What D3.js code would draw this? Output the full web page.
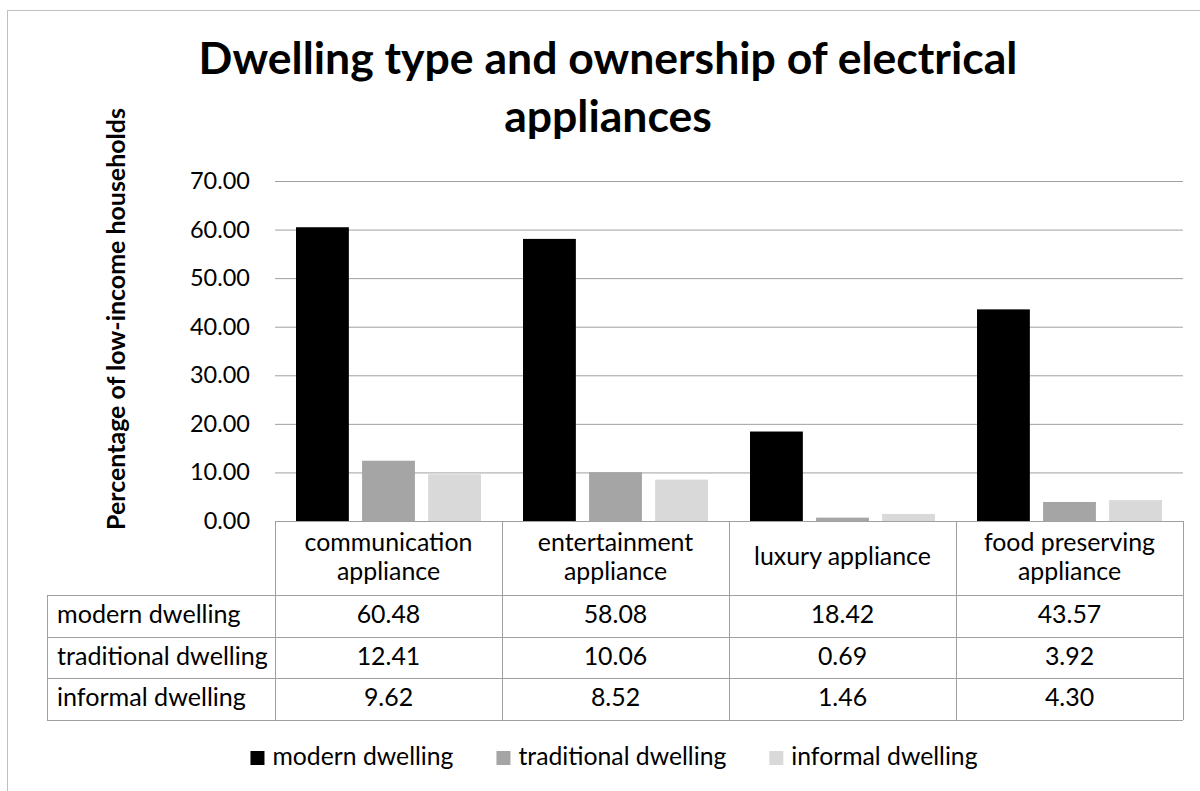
<!DOCTYPE html>
<html>
<head>
<meta charset="utf-8">
<script src="https://cdn.jsdelivr.net/npm/d3@7"></script>
<style>
  body { margin: 0; background: #fff; }
  svg { display: block; }
</style>
</head>
<body>
<svg id="chart" width="1200" height="791"></svg>
<script>
// ---- data ----
const categories = ["communication appliance", "entertainment appliance", "luxury appliance", "food preserving appliance"];
const categoryLines = [["communication", "appliance"], ["entertainment", "appliance"], ["luxury appliance"], ["food preserving", "appliance"]];
const series = ["modern dwelling", "traditional dwelling", "informal dwelling"];
const modernDwelling = [60.48, 58.08, 18.42, 43.57];
const traditionalDwelling = [12.41, 10.06, 0.69, 3.92];
const informalDwelling = [9.62, 8.52, 1.46, 4.30];
const yTicks = [0, 10, 20, 30, 40, 50, 60, 70];
const titleLines = ["Dwelling type and ownership of electrical", "appliances"];
const yAxisTitle = "Percentage of low-income households";

const values = [modernDwelling, traditionalDwelling, informalDwelling];
const colors = ["#000000", "#a5a5a5", "#d9d9d9"];

// ---- layout ----
const FONT = "Lato, 'Open Sans', sans-serif";
const svg = d3.select("#chart");
const gridColor = "#a0a0a0";

const plotLeft = 275, plotRight = 1183, plotTop = 181, plotBottom = 521;
const tableLeft = 47;
const rowEdges = [595, 637, 678, 720];

const x = d3.scaleBand().domain(categories).range([plotLeft, plotRight]);
const xs = d3.scaleBand().domain(series).range([0, x.bandwidth()]).paddingInner(0.2).paddingOuter(0.318);
const y = d3.scaleLinear().domain([0, 70]).range([plotBottom, plotTop]);

// font size that makes a sample string span a given width
function fitSize(text, weight, target) {
  const t = svg.append("text").attr("font-family", FONT).attr("font-weight", weight)
    .attr("font-size", 100).text(text);
  const w = t.node().getComputedTextLength();
  t.remove();
  return 100 * target / w;
}

const titleSize = fitSize(titleLines[0], "bold", 819);
const axisTitleSize = fitSize(yAxisTitle, "bold", 422);
const tickSize = fitSize("70.00", "normal", 60);
const cellSize = fitSize("communication", "normal", 168);
const labelSize = fitSize("traditional dwelling", "normal", 211);
const legendSize = fitSize("modern dwelling", "normal", 181);

// chart frame
svg.append("rect")
  .attr("x", 7.5).attr("y", 10.5).attr("width", 1220).attr("height", 820)
  .attr("fill", "#fff").attr("stroke", "#bfbfbf").attr("stroke-width", 1);

// title
svg.append("g").selectAll("text").data(titleLines).join("text")
  .attr("x", 608).attr("y", (d, i) => 74 + i * 58)
  .attr("text-anchor", "middle")
  .attr("font-family", FONT).attr("font-weight", "bold").attr("font-size", titleSize)
  .attr("fill", "#000").text(d => d);

// y axis title
svg.append("text")
  .attr("transform", "translate(125,319) rotate(-90)")
  .attr("text-anchor", "middle")
  .attr("font-family", FONT).attr("font-weight", "bold").attr("font-size", axisTitleSize)
  .attr("fill", "#000").text(yAxisTitle);

// gridlines and tick labels
const yAxis = d3.axisLeft(y).tickValues(yTicks).tickFormat(d3.format(".2f"))
  .tickSize(-(plotRight - plotLeft)).tickPadding(25);
const gy = svg.append("g").attr("transform", `translate(${plotLeft},0)`).call(yAxis);
gy.select(".domain").remove();
gy.selectAll(".tick line").attr("stroke", gridColor).attr("stroke-width", 1)
  .filter(d => d === 0).remove();
gy.selectAll(".tick text")
  .attr("font-family", FONT).attr("font-size", tickSize).attr("fill", "#000");

// bars
const barData = [];
categories.forEach((c, ci) => series.forEach((s, si) => barData.push({ c, s, si, v: values[si][ci] })));
svg.append("g").selectAll("rect").data(barData).join("rect")
  .attr("x", d => x(d.c) + xs(d.s))
  .attr("y", d => y(d.v))
  .attr("width", xs.bandwidth())
  .attr("height", d => y(0) - y(d.v))
  .attr("fill", d => colors[d.si]);

// data table
const table = svg.append("g").attr("stroke", gridColor).attr("stroke-width", 1).attr("shape-rendering", "crispEdges");
table.append("line").attr("x1", plotLeft).attr("x2", plotRight).attr("y1", plotBottom).attr("y2", plotBottom);
rowEdges.forEach(ry => table.append("line").attr("x1", tableLeft).attr("x2", plotRight).attr("y1", ry).attr("y2", ry));
table.append("line").attr("x1", tableLeft).attr("x2", tableLeft).attr("y1", rowEdges[0]).attr("y2", rowEdges[rowEdges.length - 1]);
[...categories.map(c => x(c)), plotRight].forEach(cx =>
  table.append("line").attr("x1", cx).attr("x2", cx).attr("y1", plotBottom).attr("y2", rowEdges[rowEdges.length - 1]));

// header cells
const headerMid = (plotBottom + rowEdges[0]) / 2;
svg.append("g").selectAll("text").data(categories).join("text")
  .attr("x", c => x(c) + x.bandwidth() / 2)
  .attr("text-anchor", "middle")
  .attr("font-family", FONT).attr("font-size", cellSize).attr("fill", "#000")
  .each(function (c, i) {
    const lines = categoryLines[i];
    const lh = 29;
    const y0 = headerMid + 7 - (lines.length - 1) * lh / 2;
    d3.select(this).selectAll("tspan").data(lines).join("tspan")
      .attr("x", x(c) + x.bandwidth() / 2)
      .attr("y", (d, j) => y0 + j * lh)
      .text(d => d);
  });

// row labels and values
const fmt = d3.format(".2f");
series.forEach((s, si) => {
  const base = (rowEdges[si] + (rowEdges[si + 1] || rowEdges[si] + 42)) / 2 + 7;
  svg.append("text").attr("x", tableLeft + 10).attr("y", base)
    .attr("font-family", FONT).attr("font-size", labelSize).attr("fill", "#000").text(s);
  svg.append("g").selectAll("text").data(categories).join("text")
    .attr("x", c => x(c) + x.bandwidth() / 2).attr("y", base)
    .attr("text-anchor", "middle")
    .attr("font-family", FONT).attr("font-size", cellSize).attr("fill", "#000")
    .text((c, ci) => fmt(values[si][ci]));
});

// legend
const legend = svg.append("g");
const items = legend.selectAll("g").data(series).join("g");
items.append("rect").attr("x", 0).attr("y", 751).attr("width", 14).attr("height", 14)
  .attr("fill", (d, i) => colors[i]);
items.append("text").attr("x", 22).attr("y", 765)
  .attr("font-family", FONT).attr("font-size", legendSize).attr("fill", "#000").text(d => d);
let cursor = 0;
const offsets = [];
items.each(function () {
  offsets.push(cursor);
  const w = d3.select(this).select("text").node().getComputedTextLength();
  cursor += 22 + w + 43;
});
const totalW = cursor - 43;
const legendStart = 614 - totalW / 2;
items.attr("transform", (d, i) => `translate(${legendStart + offsets[i]},0)`);
</script>
</body>
</html>
